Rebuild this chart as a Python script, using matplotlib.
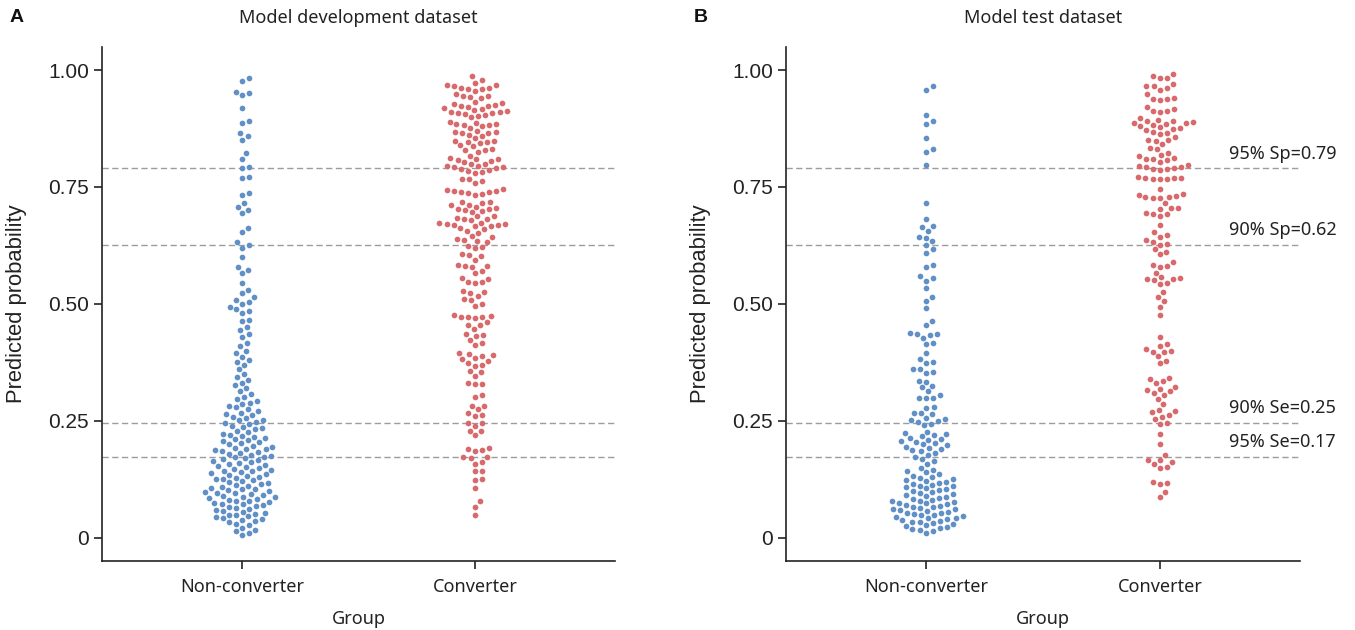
import numpy as np
import matplotlib
matplotlib.use("Agg")
import matplotlib.pyplot as plt

# ---- data (predicted probabilities per group) ----
groups = ["Non-converter", "Converter"]

dev_non = [
    0.982, 0.977, 0.954, 0.950, 0.947, 0.919, 0.890, 0.886, 0.865, 0.858, 0.850, 0.822, 0.809,
    0.793, 0.790, 0.772, 0.769, 0.737, 0.733, 0.716, 0.707, 0.701, 0.694, 0.662, 0.654, 0.632,
    0.626, 0.620, 0.600, 0.579, 0.573, 0.566, 0.545, 0.530, 0.523, 0.515, 0.509, 0.505, 0.500,
    0.494, 0.490, 0.485, 0.480, 0.466, 0.463, 0.450, 0.445, 0.435, 0.430, 0.417, 0.410, 0.400,
    0.395, 0.387, 0.380, 0.375, 0.370, 0.360,
    0.350, 0.344, 0.338, 0.332, 0.326, 0.320, 0.314, 0.308, 0.302, 0.297,
    0.293, 0.289, 0.286, 0.282, 0.279, 0.275, 0.272, 0.268, 0.265, 0.262,
    0.259, 0.256, 0.253, 0.251, 0.248, 0.246, 0.243, 0.240, 0.238, 0.235, 0.232, 0.229, 0.226,
    0.223, 0.221, 0.218, 0.216, 0.213, 0.211, 0.209, 0.207, 0.204, 0.202, 0.200, 0.197,
    0.195, 0.193, 0.191, 0.189, 0.187, 0.186, 0.184, 0.182, 0.180, 0.178, 0.176, 0.174, 0.172,
    0.170, 0.168, 0.166, 0.164, 0.162, 0.160, 0.158, 0.156, 0.154,
    0.152, 0.150, 0.148, 0.146, 0.144, 0.143, 0.141, 0.139, 0.137, 0.135, 0.133, 0.131, 0.129,
    0.127, 0.125, 0.123, 0.121, 0.119, 0.117, 0.115, 0.113, 0.111, 0.109, 0.107, 0.105, 0.104,
    0.102, 0.100, 0.098, 0.097, 0.095, 0.093, 0.092, 0.090, 0.088, 0.087, 0.085, 0.083, 0.082,
    0.080, 0.078, 0.077, 0.075, 0.073, 0.072, 0.070, 0.068, 0.066, 0.064, 0.062, 0.060, 0.058,
    0.056, 0.054,
    0.052, 0.050, 0.048, 0.046, 0.044, 0.042, 0.040, 0.038, 0.036, 0.033, 0.030, 0.027,
    0.022, 0.018, 0.014, 0.010, 0.006,
]

dev_conv = [
    0.987, 0.979, 0.968, 0.967, 0.966, 0.973, 0.960, 0.961, 0.959, 0.962, 0.956, 0.944, 0.942,
    0.948, 0.945, 0.941, 0.929, 0.923, 0.919, 0.925, 0.917, 0.932, 0.924, 0.922, 0.928, 0.915,
    0.910, 0.905, 0.912, 0.904, 0.909, 0.908, 0.911, 0.902, 0.899, 0.880, 0.885, 0.883, 0.889,
    0.882, 0.887, 0.884, 0.877, 0.859, 0.867, 0.865, 0.870, 0.862, 0.868, 0.866, 0.855, 0.848,
    0.843, 0.847, 0.840, 0.849, 0.846, 0.837, 0.830, 0.829, 0.831, 0.825, 0.817, 0.809, 0.800,
    0.811, 0.806, 0.810, 0.803, 0.799, 0.808, 0.793, 0.795, 0.788, 0.794, 0.786, 0.791, 0.792,
    0.784, 0.780, 0.781, 0.767, 0.768, 0.763, 0.759, 0.739, 0.744, 0.741, 0.736, 0.746, 0.742,
    0.733, 0.738, 0.740, 0.711, 0.704, 0.718, 0.699, 0.715, 0.706, 0.696, 0.712, 0.703, 0.700,
    0.717, 0.708, 0.687, 0.679, 0.682, 0.689, 0.681, 0.684, 0.671, 0.668, 0.660, 0.672, 0.667,
    0.657, 0.670, 0.666, 0.662, 0.674, 0.669, 0.652, 0.645, 0.637, 0.634, 0.643, 0.638, 0.633,
    0.621, 0.624, 0.619, 0.603, 0.607, 0.604, 0.595, 0.582, 0.583, 0.581, 0.580, 0.570, 0.566,
    0.555, 0.548, 0.546, 0.554, 0.544, 0.525, 0.524, 0.527, 0.516, 0.509, 0.510, 0.501, 0.496,
    0.473, 0.474, 0.472, 0.473, 0.471, 0.477, 0.455, 0.461, 0.456, 0.447, 0.433, 0.436, 0.432,
    0.423, 0.412, 0.417, 0.390, 0.393, 0.389, 0.396, 0.382, 0.385, 0.373, 0.379, 0.368, 0.370,
    0.354, 0.357, 0.346, 0.329, 0.332, 0.330, 0.302, 0.306, 0.282, 0.283, 0.275, 0.266, 0.261,
    0.262, 0.245, 0.246, 0.240, 0.229, 0.228, 0.219, 0.190, 0.193, 0.187, 0.186, 0.172, 0.173,
    0.170, 0.162, 0.158, 0.143, 0.142, 0.126, 0.124, 0.107, 0.078, 0.066, 0.048,
]

test_non = [
    0.965, 0.958, 0.903, 0.891, 0.884, 0.855, 0.832, 0.825, 0.796, 0.716, 0.682, 0.667, 0.665,
    0.657, 0.642, 0.643, 0.634, 0.626, 0.617, 0.610, 0.584, 0.578, 0.559, 0.555, 0.550, 0.534,
    0.515, 0.507, 0.491,
    0.464, 0.455, 0.437, 0.436, 0.435, 0.434, 0.428, 0.416, 0.414, 0.396, 0.382, 0.377, 0.373,
    0.361, 0.360, 0.355, 0.352, 0.336, 0.334, 0.325, 0.322, 0.313, 0.306, 0.300, 0.299, 0.298,
    0.279, 0.277, 0.268, 0.266, 0.264, 0.256, 0.255, 0.251, 0.249, 0.247, 0.244, 0.241,
    0.227, 0.224, 0.222, 0.219, 0.217, 0.214, 0.212, 0.210, 0.207, 0.205, 0.202, 0.200, 0.198,
    0.195, 0.193, 0.190, 0.188, 0.185, 0.182, 0.178, 0.174, 0.169, 0.164, 0.158,
    0.150, 0.146, 0.143, 0.140, 0.136, 0.133,
    0.130, 0.128, 0.126, 0.124, 0.122, 0.120, 0.118, 0.116, 0.114, 0.112, 0.110, 0.108, 0.106,
    0.104, 0.102, 0.100, 0.098, 0.096, 0.094, 0.092, 0.090, 0.088, 0.086, 0.084, 0.082,
    0.080, 0.078, 0.077, 0.075, 0.074, 0.072, 0.070, 0.069, 0.067, 0.066, 0.064, 0.062, 0.061,
    0.059, 0.058, 0.056, 0.054, 0.053, 0.051, 0.050, 0.048, 0.046, 0.045, 0.043, 0.042, 0.040,
    0.038,
    0.037, 0.035, 0.033, 0.031, 0.029, 0.027, 0.025, 0.023, 0.021, 0.019, 0.017, 0.014, 0.011,
]

test_conv = [
    0.991, 0.984, 0.987, 0.983, 0.966, 0.970, 0.965, 0.957, 0.961, 0.948, 0.941, 0.937, 0.936,
    0.938, 0.922, 0.913, 0.911, 0.912, 0.916, 0.898, 0.894, 0.891, 0.889, 0.887, 0.885, 0.883,
    0.881, 0.879, 0.877, 0.875, 0.892, 0.886, 0.867, 0.872, 0.866, 0.863, 0.857, 0.850, 0.851,
    0.849, 0.842, 0.831, 0.834, 0.819, 0.811, 0.809, 0.817, 0.810, 0.823, 0.808, 0.804, 0.788,
    0.793, 0.790, 0.795, 0.787, 0.792, 0.789, 0.797, 0.769, 0.768, 0.770, 0.769, 0.768, 0.767,
    0.771, 0.746, 0.728, 0.726, 0.733, 0.727, 0.731, 0.729, 0.736, 0.715, 0.695, 0.692, 0.706,
    0.688, 0.704, 0.693, 0.705, 0.669, 0.647, 0.643, 0.653, 0.636, 0.627, 0.628, 0.632, 0.617,
    0.612, 0.606, 0.583, 0.580, 0.590, 0.581, 0.567, 0.558, 0.551, 0.543, 0.553, 0.554, 0.545,
    0.556, 0.525, 0.514, 0.506, 0.494,
    0.476, 0.429, 0.410, 0.414, 0.400, 0.397, 0.404, 0.398, 0.388, 0.379, 0.373, 0.335, 0.342,
    0.339, 0.331, 0.316, 0.323, 0.318, 0.313, 0.310, 0.305, 0.297, 0.286, 0.269, 0.273, 0.271,
    0.259, 0.255, 0.263, 0.245, 0.244, 0.223, 0.201, 0.177, 0.166, 0.162, 0.167, 0.158, 0.150,
    0.151, 0.117, 0.119, 0.115, 0.098, 0.088,
]

cutoffs = [0.79, 0.626, 0.246, 0.173]
cutoff_labels = ["95% Sp=0.79", "90% Sp=0.62", "90% Se=0.25", "95% Se=0.17"]

panels = [
    ("A", "Model development dataset", dev_non, dev_conv, False),
    ("B", "Model test dataset", test_non, test_conv, True),
]

BLUE = "#6090c6"
RED = "#d8696c"
TICK_FONT = "Liberation Sans"
TEXT_FONT = "Noto Sans"
DOT_PX = 5.7      # drawn dot diameter
GAP_PX = 7.2      # centre distance used by the swarm layout


def swarm_offsets(ax, vals, center, d_px):
    # simple beeswarm in pixel space: each point goes as close to the centre as it can
    pix = ax.transData.transform(np.column_stack([np.full(len(vals), center), vals]))
    ypix = pix[:, 1]
    order = np.argsort(ypix)
    px_x, px_y = [], []
    off = np.zeros(len(vals))
    for i in order:
        yi = ypix[i]
        if px_x:
            ax_ = np.array(px_x)
            ay_ = np.array(px_y)
            near = np.abs(ay_ - yi) < d_px
            nx, dy = ax_[near], ay_[near] - yi
        else:
            nx, dy = np.array([]), np.array([])
        cands = [0.0]
        if len(nx):
            dx = np.sqrt(d_px ** 2 - dy ** 2)
            cands += list(nx + dx) + list(nx - dx)
        cands.sort(key=abs)
        for c in cands:
            if len(nx) == 0 or np.all((nx - c) ** 2 + dy ** 2 >= d_px ** 2 - 1e-6):
                off[i] = c
                break
        px_x.append(off[i])
        px_y.append(yi)
    x0 = ax.transData.transform((center, 0))[0]
    x1 = ax.transData.transform((center + 1, 0))[0]
    return center + off / (x1 - x0)


fig = plt.figure(figsize=(13.55, 6.3), dpi=100)
ax_pos = [[0.0753, 0.109, 0.3786, 0.817], [0.5801, 0.109, 0.3793, 0.817]]
letter_x = [10 / 1355, 694 / 1355]

for k, (letter, title, non, conv, annotate) in enumerate(panels):
    ax = fig.add_axes(ax_pos[k])
    ax.set_xlim(-0.6, 1.6)
    ax.set_ylim(-0.05, 1.05)

    for c in cutoffs:
        ax.axhline(c, color="#9c9c9c", lw=1.0, ls=(0, (4.5, 2.5)), zorder=1)

    for pos, (vals, col) in enumerate([(non, BLUE), (conv, RED)]):
        vals = np.asarray(vals, dtype=float)
        xs = swarm_offsets(ax, vals, pos, GAP_PX)
        ax.scatter(xs, vals, s=(DOT_PX * 0.72) ** 2, color=col, linewidths=0, zorder=3)

    if annotate:
        for c, lab in zip(cutoffs, cutoff_labels):
            ax.annotate(lab, (1.296, c), xytext=(0, 4), textcoords="offset points",
                        ha="left", va="bottom", fontsize=13, family=TEXT_FONT, color="#222222")

    for side in ["top", "right"]:
        ax.spines[side].set_visible(False)
    for side in ["left", "bottom"]:
        ax.spines[side].set_linewidth(1.2)
        ax.spines[side].set_color("#222222")

    ax.set_yticks([0, 0.25, 0.5, 0.75, 1.0])
    ax.set_yticklabels(["0", "0.25", "0.50", "0.75", "1.00"], fontsize=15, family=TICK_FONT,
                       color="#222222")
    ax.set_xticks([0, 1])
    ax.set_xticklabels(groups, fontsize=13, family=TEXT_FONT, color="#222222")
    ax.tick_params(axis="both", length=6, width=1.2, color="#222222")
    ax.tick_params(axis="x", pad=6)

    ax.set_ylabel("Predicted probability", fontsize=15.8, family=TICK_FONT, color="#222222")
    ax.yaxis.set_label_coords(-0.146, 0.5)
    ax.set_xlabel("Group", fontsize=13, family=TEXT_FONT, color="#222222")
    ax.xaxis.set_label_coords(0.5, -0.094)

    ax.set_title(title, fontsize=13, family=TEXT_FONT, color="#222222", y=1.0, pad=0)
    ax.title.set_position((0.5, (1 - 18 / 630 - ax_pos[k][1]) / ax_pos[k][3]))
    ax.title.set_va("center")

    fig.text(letter_x[k], 1 - 18 / 630, letter, fontsize=14, fontweight="bold",
             family=TICK_FONT, va="center", ha="left", color="#111111")

fig.savefig("out.png", dpi=100)
